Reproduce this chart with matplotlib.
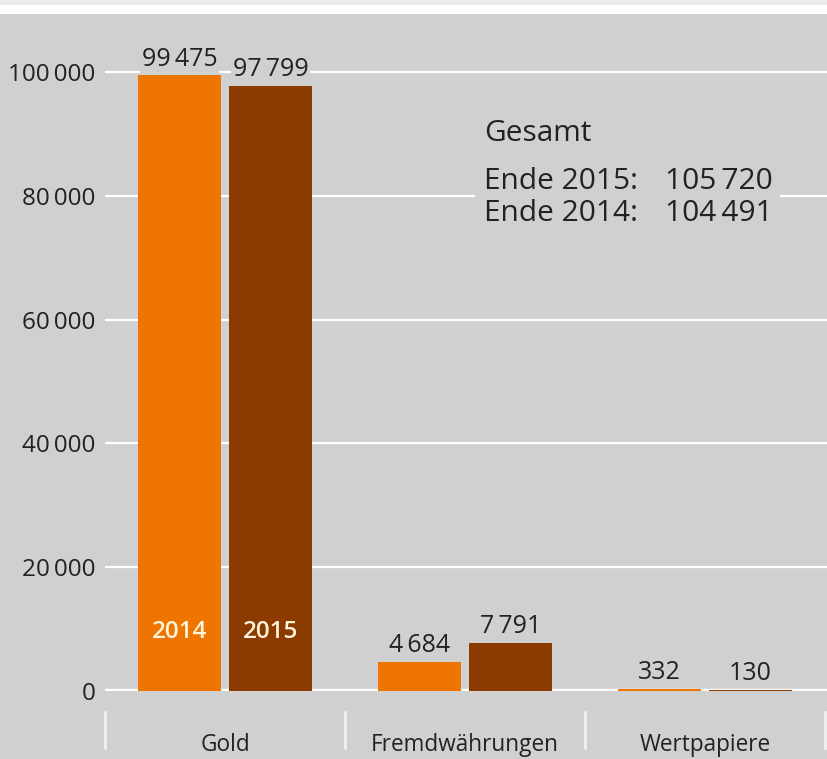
import matplotlib.pyplot as plt
from matplotlib.patches import Rectangle
import numpy as np

plt.rcParams['font.family'] = ['Open Sans', 'DejaVu Sans']

categories = ['Gold', 'Fremdwährungen', 'Wertpapiere']
years = ['2014', '2015']
values_2014 = [99475, 4684, 332]
values_2015 = [97799, 7791, 130]
totals = {'2015': 105720, '2014': 104491}
yticks = [0, 20000, 40000, 60000, 80000, 100000]

bg = '#d0d0d0'
orange = '#ee7600'
brown = '#8b3a00'
txt = '#222222'


def fmt(v):
    return f'{v:,}'.replace(',', '\u2009')


fig = plt.figure(figsize=(8.27, 7.59), dpi=100, facecolor=bg)
# top band
fig.patches.append(Rectangle((0, 1 - 5 / 759), 1, 5 / 759, transform=fig.transFigure,
                             facecolor='#ececec', edgecolor='none', zorder=0))
fig.patches.append(Rectangle((0, 1 - 14 / 759), 1, 9 / 759, transform=fig.transFigure,
                             facecolor='white', edgecolor='none', zorder=0))

ax = fig.add_axes([105 / 827, 68 / 759, 722 / 827, 677 / 759])
ax.set_facecolor(bg)
ax.set_xlim(-0.5, 2.508)
ax.set_ylim(0, 677 / 6.19 * 1000)

for s in ax.spines.values():
    s.set_visible(False)

x = np.arange(len(categories))
w = 83 / 240
off = 45.5 / 240

for t in yticks[1:]:
    ax.axhline(t, color='white', lw=1.6, zorder=0.5)
ax.axhline(0, color='white', lw=3.2, zorder=0.6)

b1 = ax.bar(x - off, values_2014, w, color=orange, zorder=2)
b2 = ax.bar(x + off, values_2015, w, color=brown, zorder=2)

for bars, vals in [(b1, values_2014), (b2, values_2015)]:
    for rect, v in zip(bars, vals):
        ax.annotate(fmt(v), (rect.get_x() + rect.get_width() / 2, v),
                    xytext=(0, 7), textcoords='offset points', ha='center', va='baseline',
                    fontsize=18, color=txt, zorder=4,
                    bbox=dict(facecolor=bg, edgecolor='none', pad=1.5))

# year labels inside gold bars
for xi, yr in [(x[0] - off, years[0]), (x[0] + off, years[1])]:
    ax.text(xi, 9500, yr, ha='center', va='center', fontsize=17.5,
            fontweight='semibold', color='#fff3dc', zorder=3)

ax.set_yticks(yticks)
ax.set_yticklabels([fmt(t) for t in yticks], fontsize=17.5, color=txt)
ax.tick_params(axis='y', length=0, pad=7)
ax.set_xticks([])

# category labels and separators below the axis
trans = ax.get_xaxis_transform()
for sx in [-0.5, 0.5, 1.5, 2.5]:
    ax.plot([sx, sx], [-21 / 677, -57 / 677], color='#f4f4f4', lw=1.8,
            transform=trans, clip_on=False)
for xi, c in zip(x, categories):
    ax.text(xi, -54 / 677, c, transform=trans, ha='center', va='center',
            fontsize=16.3, color=txt, clip_on=False)

# total box
ax.add_patch(Rectangle((1.042, 75000), 1.27, 20000, facecolor=bg,
                       edgecolor='none', zorder=1))
fs = 21.5
ax.text(1.079, 90000, 'Gesamt', fontsize=fs, color=txt, va='center', zorder=3)
ax.text(1.079, 82230, 'Ende 2015:', fontsize=fs, color=txt, va='center', zorder=3)
ax.text(1.079, 77060, 'Ende 2014:', fontsize=fs, color=txt, va='center', zorder=3)
ax.text(2.28, 82230, fmt(totals['2015']), fontsize=fs, color=txt, va='center',
        ha='right', zorder=3)
ax.text(2.28, 77060, fmt(totals['2014']), fontsize=fs, color=txt, va='center',
        ha='right', zorder=3)

fig.savefig('out.png', dpi=100, facecolor=bg)
